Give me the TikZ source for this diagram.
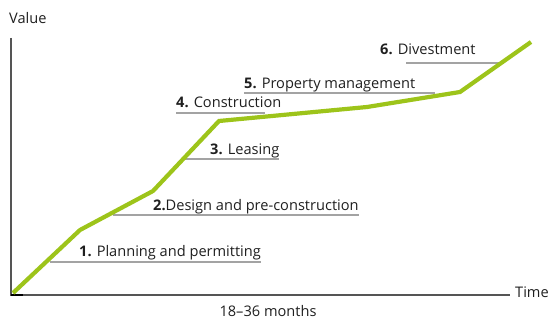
\documentclass[tikz,border=0pt]{standalone}
\usepackage{fontspec}
\setmainfont{Open Sans}
\usepackage{tikz}
\usetikzlibrary{positioning}
\definecolor{curvegreen}{HTML}{9DC41A}
\definecolor{rulegray}{HTML}{A3A3A3}
\definecolor{axisgray}{HTML}{555555}

\tikzset{
  txt/.style={inner sep=0pt, font=\fontsize{14.6}{17}\selectfont, text=black!88},
  phase/.style={txt, anchor=base west},
  rule/.style={rulegray, line width=1.1pt},
  valuecurve/.style={curvegreen, line width=4.2pt, line join=miter}
}

\begin{document}
\begin{tikzpicture}[x=1pt, y=-1pt]
    \useasboundingbox (0,0) rectangle (553,320);

    % axes
    \coordinate (origin) at (11,295);
    \coordinate (ytop) at (11,38);
    \coordinate (xend) at (510,295);
    \draw [axisgray, line width=1.3pt] (ytop) -- (origin) -- (xend);
    \draw [black, line width=2.6pt] (origin) -- ++(12,0);
    \node[txt, anchor=base west](value) at (9,24){Value};
    \node[txt, anchor=base west](time) at (515,297){Time};
    \node[txt, anchor=base](months) at (268,316){18--36 months};

    % value curve
    \coordinate (p0) at (13,293);
    \coordinate (p1) at (80,230);
    \coordinate (p2) at (153,191);
    \coordinate (p3) at (219,121);
    \coordinate (p4) at (367,107);
    \coordinate (p5) at (460,92);
    \coordinate (p6) at (531,42);

    % underlines
    \coordinate (u1) at (50,262);
    \coordinate (u2) at (113,215);
    \coordinate (u3) at (185,159);
    \coordinate (u4) at (176,113);
    \coordinate (u5) at (244,93);
    \coordinate (u6) at (406,63);

    % 1
    \node[phase](ph1) at (79,256){\textbf{1.} Planning and permitting};
    \draw [rule] (u1) -- (ph1.east |- u1);
    % 2
    \node[phase](ph2) at (153,210){\textbf{2.}Design and pre-construction};
    \draw [rule] (u2) -- (ph2.east |- u2);
    % 3
    \node[phase](ph3) at (210,155){\textbf{3.} Leasing};
    \draw [rule] (u3) -- (ph3.east |- u3);
    % 4
    \node[phase](ph4) at (176,108){\textbf{4.} Construction};
    \draw [rule] (u4) -- ++(89,0);
    % 5
    \node[phase](ph5) at (244,89){\textbf{5.} Property management};
    \draw [rule] (u5) -- ++(191,0);
    % 6
    \node[phase](ph6) at (380,55){\textbf{6.} Divestment};
    \draw [rule] (u6) -- ++(97,0);

    \draw [valuecurve] (p0) -- (p1) -- (p2) -- (p3) -- (p4) -- (p5) -- (p6);
\end{tikzpicture}
\end{document}
